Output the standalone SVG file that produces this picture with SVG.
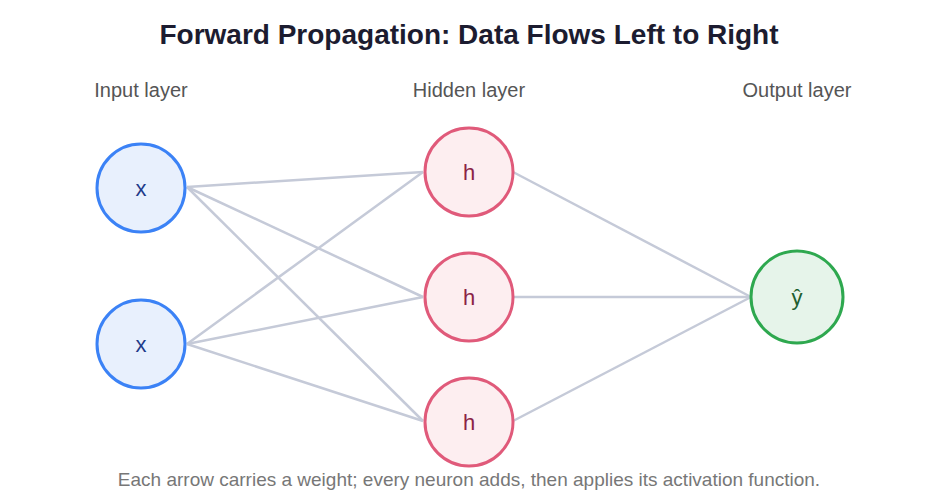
<svg xmlns="http://www.w3.org/2000/svg" width="937" height="500" viewBox="0 0 937 500">
<style>
.title{font-family:"Liberation Sans",Arial,sans-serif;font-weight:bold;font-size:28px;fill:#1c1c30;text-anchor:middle}
.layer{font-family:"Liberation Sans",Arial,sans-serif;font-size:20px;fill:#555;text-anchor:middle}
.cap{font-family:"Liberation Sans",Arial,sans-serif;font-size:19px;fill:#777;text-anchor:middle}
.lbl{font-family:"Liberation Sans",Arial,sans-serif;font-size:22px;text-anchor:middle;dominant-baseline:central}
.edge{stroke:#c5cad8;stroke-width:2.5;fill:none}
.in circle{fill:#e8f0fd;stroke:#3b82f6;stroke-width:3}
.in text{fill:#1e3a8a}
.hid circle{fill:#fdeef0;stroke:#e05a7a;stroke-width:3}
.hid text{fill:#8b2346}
.out circle{fill:#e6f4ea;stroke:#2ea84f;stroke-width:3}
.out text{fill:#1e5e30}
</style>
<rect width="937" height="500" fill="#fff"/>
<text class="title" x="469" y="44">Forward Propagation: Data Flows Left to Right</text>
<text class="layer" x="141" y="97">Input layer</text>
<text class="layer" x="469" y="97">Hidden layer</text>
<text class="layer" x="797" y="97">Output layer</text>
<g id="connectors">
<line class="edge" x1="187" y1="187" x2="423" y2="172"/>
<line class="edge" x1="187" y1="187" x2="423" y2="297"/>
<line class="edge" x1="187" y1="187" x2="423" y2="421"/>
<line class="edge" x1="187" y1="344" x2="423" y2="172"/>
<line class="edge" x1="187" y1="344" x2="423" y2="297"/>
<line class="edge" x1="187" y1="344" x2="423" y2="421"/>
<line class="edge" x1="513" y1="172" x2="751" y2="297"/>
<line class="edge" x1="513" y1="297" x2="751" y2="297"/>
<line class="edge" x1="513" y1="421" x2="751" y2="297"/>
</g>
<g id="x1" class="in"><circle cx="141" cy="188" r="44"/><text class="lbl" x="141" y="188">x</text></g>
<g id="x2" class="in"><circle cx="141" cy="344" r="44"/><text class="lbl" x="141" y="344">x</text></g>
<g id="h1" class="hid"><circle cx="469" cy="172" r="44"/><text class="lbl" x="469" y="172">h</text></g>
<g id="h2" class="hid"><circle cx="469" cy="297" r="44"/><text class="lbl" x="469" y="297">h</text></g>
<g id="h3" class="hid"><circle cx="469" cy="422" r="44"/><text class="lbl" x="469" y="422">h</text></g>
<g id="y" class="out"><circle cx="797" cy="297" r="46"/><text class="lbl" x="797" y="297">ŷ</text></g>
<text class="cap" x="469" y="486">Each arrow carries a weight; every neuron adds, then applies its activation function.</text>
</svg>
